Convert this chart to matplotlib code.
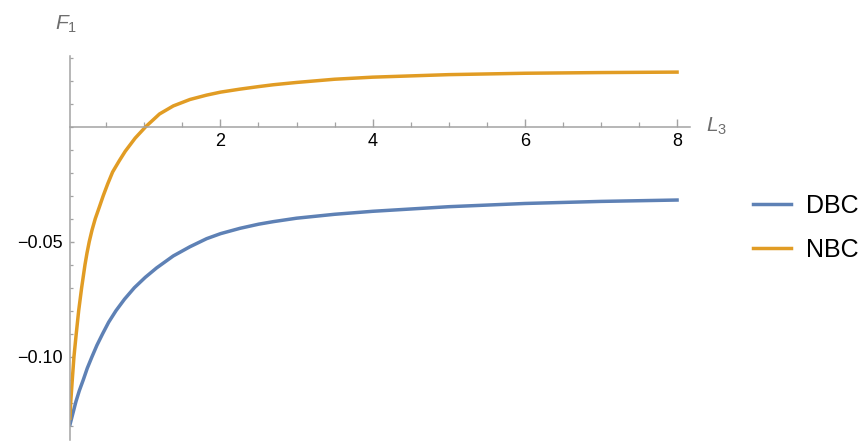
import matplotlib
matplotlib.use("Agg")
import matplotlib.pyplot as plt
from matplotlib.ticker import FixedLocator, MultipleLocator

# values
L_dbc = [0.024, 0.102, 0.146, 0.199, 0.251, 0.313, 0.378, 0.453, 0.532, 0.628,
         0.740, 0.870, 1.013, 1.162, 1.381, 1.600, 1.819, 2.003, 2.257, 2.502,
         2.694, 3.0, 3.5, 4.0, 5.0, 6.0, 7.0, 8.0]
F_dbc = [-0.1295, -0.1195, -0.1148, -0.1100, -0.1050, -0.1000, -0.0950, -0.0900,
         -0.0850, -0.0800, -0.0750, -0.0700, -0.0655, -0.0614, -0.0562, -0.0522,
         -0.0487, -0.0465, -0.0442, -0.0424, -0.0413, -0.0398, -0.0381, -0.0368,
         -0.0348, -0.0334, -0.0325, -0.0319]

L_nbc = [0.024, 0.033, 0.054, 0.076, 0.106, 0.138, 0.177, 0.199, 0.221, 0.247,
         0.277, 0.313, 0.356, 0.409, 0.461, 0.518, 0.584, 0.672, 0.750, 0.880,
         1.020, 1.200, 1.381, 1.600, 1.819, 2.003, 2.257, 2.502, 2.694, 3.0,
         3.5, 4.0, 5.0, 6.0, 7.0, 8.0]
F_nbc = [-0.1268, -0.1200, -0.1100, -0.1000, -0.0900, -0.0800, -0.0700, -0.0650,
         -0.0600, -0.0550, -0.0500, -0.0450, -0.0400, -0.0350, -0.0300, -0.0250,
         -0.0197, -0.0148, -0.0107, -0.0050, 0.0, 0.0055, 0.0090, 0.0118, 0.0137,
         0.0150, 0.0163, 0.0174, 0.0182, 0.0192, 0.0206, 0.0215, 0.0226, 0.0232,
         0.0235, 0.0237]

xticks = [2, 4, 6, 8]
yticks = [-0.10, -0.05]
ytick_labels = ["\u22120.10", "\u22120.05"]
series_names = ["DBC", "NBC"]

BLUE = "#5E81B5"
ORANGE = "#E19C24"
AXIS = "#a3a3a3"

plt.rcParams["font.family"] = ["Liberation Sans", "DejaVu Sans"]
plt.rcParams["mathtext.fontset"] = "custom"
plt.rcParams["mathtext.rm"] = "Liberation Sans"
plt.rcParams["mathtext.it"] = "Liberation Sans:italic"

W, H = 866, 448
fig = plt.figure(figsize=(W / 100, H / 100), dpi=100)
ax = fig.add_axes([70 / W, 8 / H, (690 - 70) / W, (440 - 56) / H])

ax.plot(L_dbc, F_dbc, color=BLUE, lw=2.5, label=series_names[0])
ax.plot(L_nbc, F_nbc, color=ORANGE, lw=2.5, label=series_names[1])

ax.set_xlim(0.024, 8.17)
ax.set_ylim(-0.1362, 0.0307)

for s in ["top", "right"]:
    ax.spines[s].set_visible(False)
ax.spines["bottom"].set_position(("data", 0))
for s in ["left", "bottom"]:
    ax.spines[s].set_color(AXIS)
    ax.spines[s].set_linewidth(1.1)

ax.xaxis.set_major_locator(FixedLocator(xticks))
ax.xaxis.set_minor_locator(MultipleLocator(0.5))
ax.yaxis.set_major_locator(FixedLocator(yticks))
ax.set_yticklabels(ytick_labels)
ax.yaxis.set_minor_locator(MultipleLocator(0.01))

ax.tick_params(axis="x", which="major", direction="in", length=5.8, width=1.0,
               color=AXIS, labelsize=13, pad=4.5)
ax.tick_params(axis="x", which="minor", direction="in", length=3.6, width=0.9,
               color=AXIS)
ax.tick_params(axis="y", which="major", direction="in", length=3.0, width=1.0,
               color=AXIS, labelsize=13, pad=5.5)
ax.tick_params(axis="y", which="minor", direction="in", length=2.0, width=0.9,
               color=AXIS)

fig.text(55 / W, (H - 30) / H, "$F_1$", fontsize=15, color="#6e6e6e",
         ha="left", va="baseline")
fig.text(706 / W, (H - 131.7) / H, "$L_3$", fontsize=15, color="#6e6e6e",
         ha="left", va="baseline")

fig.legend(loc="center left", bbox_to_anchor=(753 / W, (H - 228) / H),
           frameon=False, fontsize=18, handlelength=1.5, handletextpad=0.62,
           labelspacing=0.8, borderpad=0, borderaxespad=0)

fig.savefig("out.png", dpi=100)
